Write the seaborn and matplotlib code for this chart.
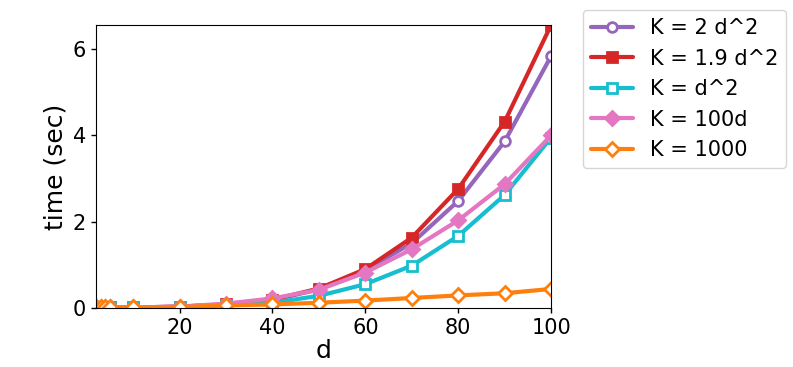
import pandas as pd
import matplotlib
matplotlib.use('Agg')
import matplotlib.pyplot as plt
import seaborn as sns

d = [2, 3, 4, 5, 10, 20, 30, 40, 50, 60, 70, 80, 90, 100]

k_2d2 = [0.02, 0.02, 0.02, 0.02, 0.01, 0.03, 0.08, 0.18, 0.43, 0.88, 1.50, 2.48, 3.86, 5.84]
k_19d2 = [0.02, 0.02, 0.02, 0.02, 0.01, 0.03, 0.08, 0.19, 0.45, 0.90, 1.63, 2.76, 4.32, 6.56]
k_d2 = [0.02, 0.02, 0.02, 0.02, 0.01, 0.02, 0.06, 0.12, 0.28, 0.55, 0.98, 1.67, 2.62, 3.95]
k_100d = [0.02, 0.02, 0.02, 0.02, 0.01, 0.03, 0.10, 0.22, 0.42, 0.82, 1.36, 2.03, 2.87, 4.00]
k_1000 = [0.02, 0.02, 0.02, 0.02, 0.01, 0.02, 0.06, 0.08, 0.12, 0.17, 0.23, 0.29, 0.34, 0.44]

series = [
    ('K = 2 d^2', k_2d2, '#9467bd', 'o', 'white'),
    ('K = 1.9 d^2', k_19d2, '#d62728', 's', '#d62728'),
    ('K = d^2', k_d2, '#17becf', 's', 'white'),
    ('K = 100d', k_100d, '#e377c2', 'D', '#e377c2'),
    ('K = 1000', k_1000, '#ff7f0e', 'D', 'white'),
]

sns.set_style('ticks', {'axes.edgecolor': 'black', 'text.color': 'black',
                        'axes.labelcolor': 'black', 'xtick.color': 'black',
                        'ytick.color': 'black'})
fig = plt.figure(figsize=(7.93, 3.67), dpi=100)
ax = fig.add_axes([0.121, 0.161, 0.574, 0.771])

for name, vals, color, marker, face in series:
    df = pd.DataFrame({'d': d, 'time': vals})
    sns.lineplot(data=df, x='d', y='time', ax=ax, color=color, linewidth=3,
                 marker=marker, markersize=7, markerfacecolor=face,
                 markeredgecolor=color, markeredgewidth=2, label=name)

ax.set_xlim(2, 100)
ax.set_ylim(0, max(k_19d2))
ax.set_xticks([20, 40, 60, 80, 100])
ax.set_yticks([0, 2, 4, 6])
ax.tick_params(labelsize=15, length=3.5, width=1)
ax.set_xlabel('d', fontsize=18, labelpad=1)
ax.set_ylabel('time (sec)', fontsize=18, labelpad=4)
ax.legend(loc='upper left', bbox_to_anchor=(1.07, 1.053), borderaxespad=0, fontsize=15)

plt.savefig('out.png', dpi=100)
